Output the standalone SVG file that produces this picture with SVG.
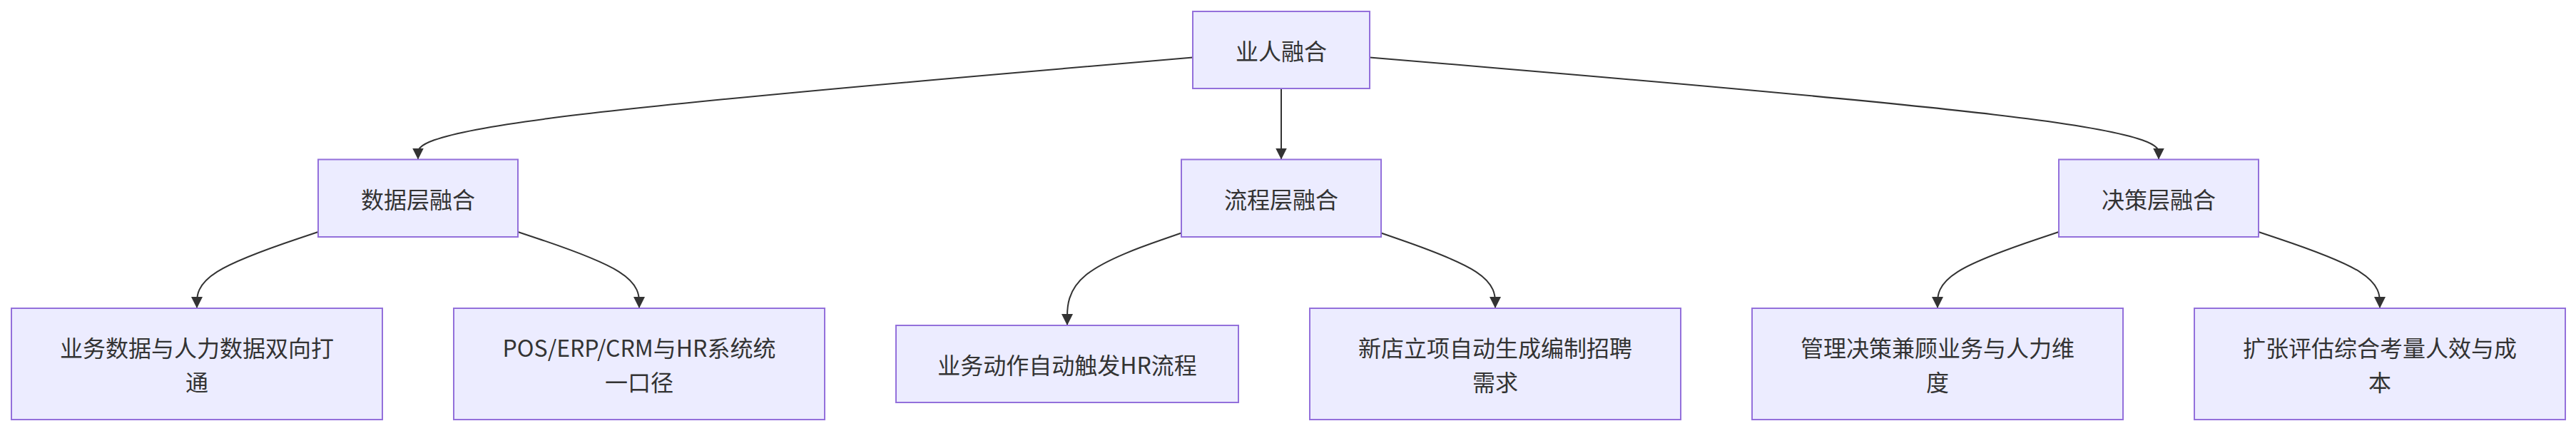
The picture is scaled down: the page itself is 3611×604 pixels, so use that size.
<svg xmlns="http://www.w3.org/2000/svg" width="3611" height="604" viewBox="0 0 3611 604">
<defs>
<marker id="arrow" viewBox="0 0 10 10" refX="10" refY="5" markerUnits="userSpaceOnUse" markerWidth="16" markerHeight="16" orient="auto">
<path d="M0,0 L10,5 L0,10 z" fill="#333333"/>
</marker>
<style>
.node rect{fill:#ECECFF;stroke:#9370DB;stroke-width:2}
.node text{fill:#333333;font-family:"Noto Sans CJK SC","Liberation Sans",sans-serif;font-size:32px;text-anchor:middle;dominant-baseline:central}
.edges path{fill:none;stroke:#333333;stroke-width:2;marker-end:url(#arrow)}
</style>
</defs>
<rect width="3611" height="604" fill="#ffffff"/>
<g class="edges">
<path d="M1672,80.6 L1491,96.08 C1310,111.57 948,142.53 767,166.27 C586,190 586,206.5 586,214.75 L586,223.5"/>
<path d="M1796,124 L1796,223.5"/>
<path d="M1920,80.4 L2104.33,95.92 C2288.67,111.43 2657.33,142.47 2841.67,166.23 C3026,190 3026,206.5 3026,214.75 L3026,223.5"/>
<path d="M446,324.97 L417.67,334.48 C389.33,343.98 332.67,362.99 304.33,380.83 C276,398.67 276,415.33 276,423.67 L276,432"/>
<path d="M726,324.97 L754.33,334.48 C782.67,343.98 839.33,362.99 867.67,380.83 C896,398.67 896,415.33 896,423.67 L896,432"/>
<path d="M1656,326.53 L1629.33,335.78 C1602.67,345.02 1549.33,363.51 1522.67,385.09 C1496,406.67 1496,431.33 1496,443.67 L1496,456"/>
<path d="M1936,326.53 L1962.67,335.78 C1989.33,345.02 2042.67,363.51 2069.33,381.09 C2096,398.67 2096,415.33 2096,423.67 L2096,432"/>
<path d="M2886,324.97 L2857.67,334.48 C2829.33,343.98 2772.67,362.99 2744.33,380.83 C2716,398.67 2716,415.33 2716,423.67 L2716,432"/>
<path d="M3166,324.97 L3194.33,334.48 C3222.67,343.98 3279.33,362.99 3307.67,380.83 C3336,398.67 3336,415.33 3336,423.67 L3336,432"/>
</g>
<g id="root" class="node">
<rect x="1672" y="16" width="248" height="108"/>
<text x="1796" y="70">业人融合</text>
</g>
<g id="data" class="node">
<rect x="446" y="223.5" width="280" height="108.5"/>
<text x="586" y="278">数据层融合</text>
</g>
<g id="process" class="node">
<rect x="1656" y="223.5" width="280" height="108.5"/>
<text x="1796" y="278">流程层融合</text>
</g>
<g id="decision" class="node">
<rect x="2886" y="223.5" width="280" height="108.5"/>
<text x="3026" y="278">决策层融合</text>
</g>
<g id="leaf1" class="node">
<rect x="16" y="432" width="520" height="156"/>
<text x="276" y="486">业务数据与人力数据双向打</text>
<text x="276" y="534">通</text>
</g>
<g id="leaf2" class="node">
<rect x="636" y="432" width="520" height="156"/>
<text x="896" y="486">POS/ERP/CRM与HR系统统</text>
<text x="896" y="534">一口径</text>
</g>
<g id="leaf3" class="node">
<rect x="1256" y="456" width="480" height="108"/>
<text x="1496" y="510">业务动作自动触发HR流程</text>
</g>
<g id="leaf4" class="node">
<rect x="1836" y="432" width="520" height="156"/>
<text x="2096" y="486">新店立项自动生成编制招聘</text>
<text x="2096" y="534">需求</text>
</g>
<g id="leaf5" class="node">
<rect x="2456" y="432" width="520" height="156"/>
<text x="2716" y="486">管理决策兼顾业务与人力维</text>
<text x="2716" y="534">度</text>
</g>
<g id="leaf6" class="node">
<rect x="3076" y="432" width="520" height="156"/>
<text x="3336" y="486">扩张评估综合考量人效与成</text>
<text x="3336" y="534">本</text>
</g>
</svg>
